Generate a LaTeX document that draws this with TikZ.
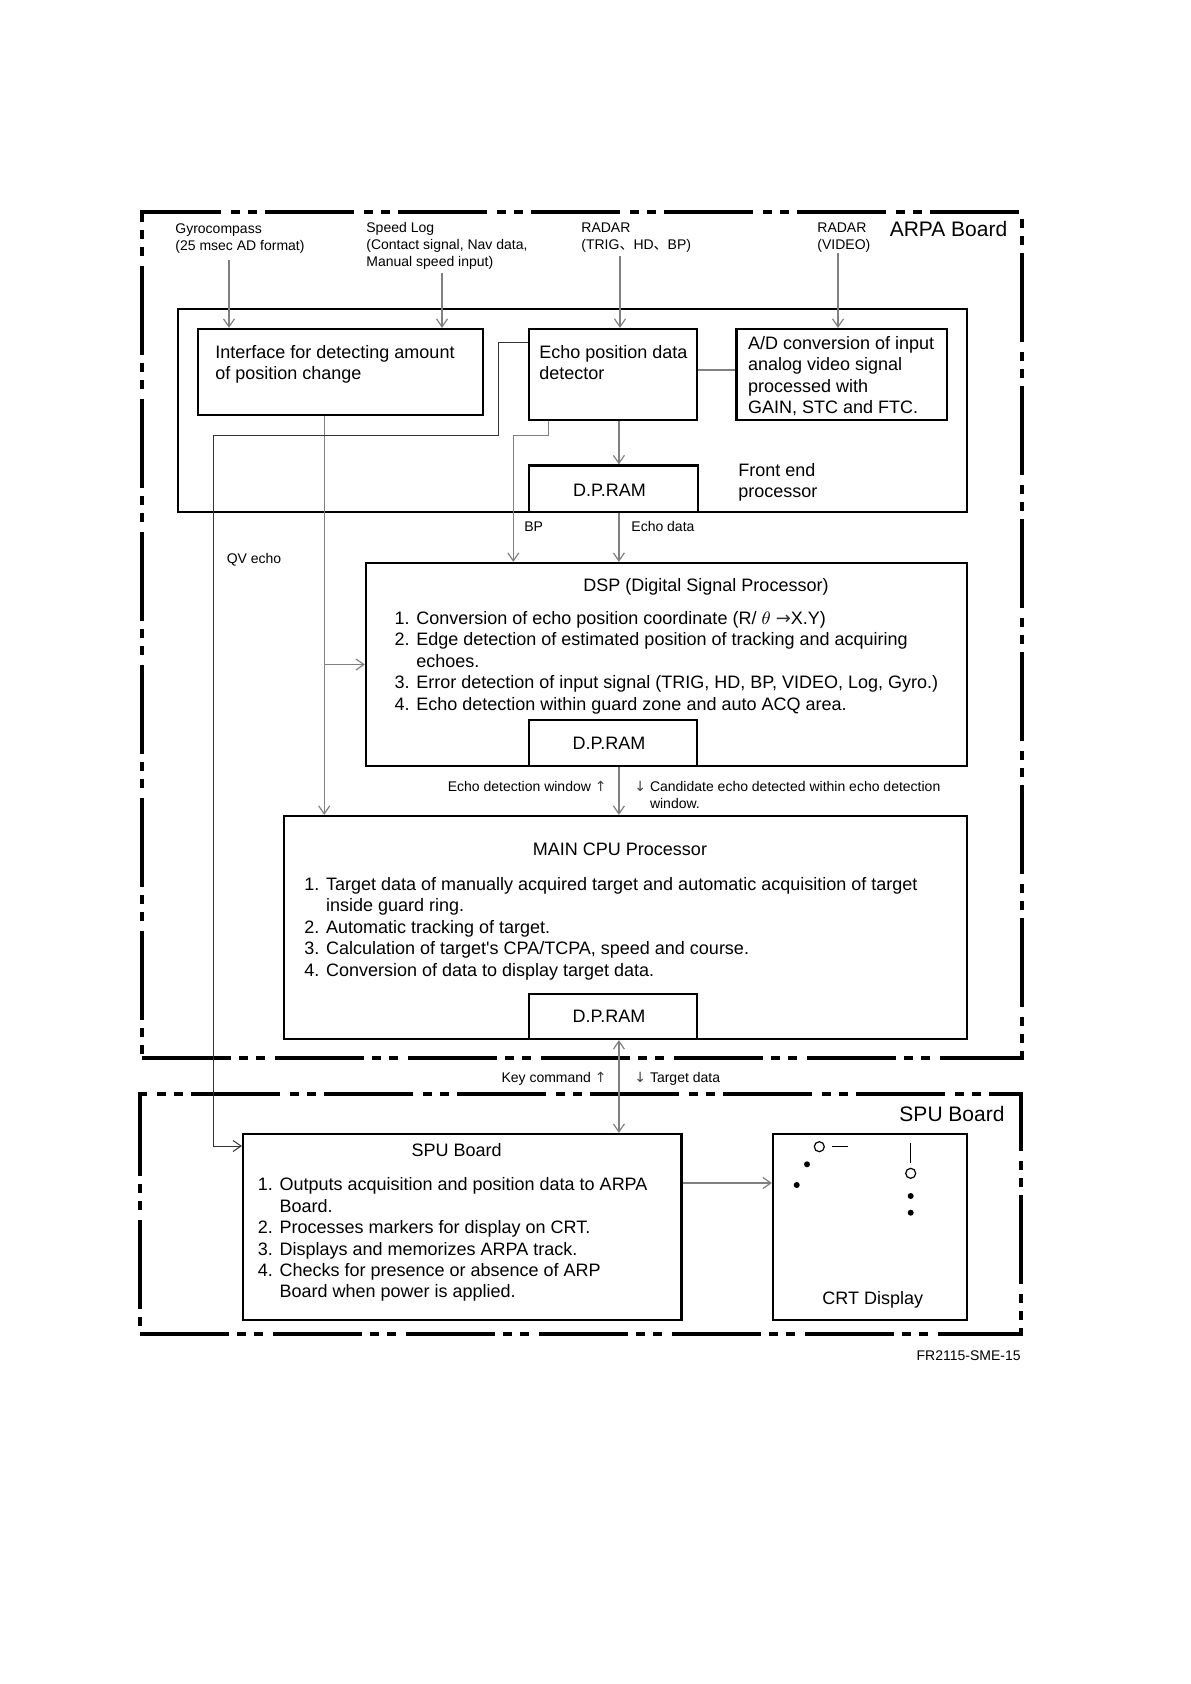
\documentclass[tikz,border=0pt]{standalone}
\usepackage{fontspec}
\setmainfont{Liberation Sans}
\newfontfamily\cjkfont{Noto Sans CJK JP}
\newfontfamily\arrowfont{DejaVu Sans}
\usetikzlibrary{arrows.meta}
\usetikzlibrary{fit}

\newcommand{\lblsize}{\fontsize{7}{8.5}\selectfont}
\newcommand{\boxsize}{\fontsize{9}{10.7}\selectfont}
\newcommand{\brdsize}{\fontsize{10.5}{12}\selectfont}
\newcommand{\upar}{{\arrowfont\color{black!75}↑}}
\newcommand{\dnar}{{\arrowfont\color{black!75}↓}}

\tikzset{
	board/.style={draw, line width=2pt, inner sep=0pt, dash pattern=on 44.5pt off 4pt on 4.5pt off 4pt on 4.5pt off 5pt},
	blk/.style={draw, line width=1.1pt, inner sep=0pt},
	wire/.style={draw=black!50, line width=0.6pt},
	qvwire/.style={draw=black!80, line width=0.5pt},
	lbl/.style={inner sep=0pt, align=left, font=\lblsize},
	txt/.style={inner sep=0pt, align=left, font=\boxsize},
}

\begin{document}
\begin{tikzpicture}[x=0.5pt, y=-0.5pt, >={Straight Barb[length=4pt,width=5.5pt]}]
\useasboundingbox (0,0) rectangle (1190,1684);

% boards
\node[board, fit={(142,212) (1022,1058)}] (arpab) {};
\node[board, fit={(140,1094) (1021,1334)}] (spub) {};
\node[inner sep=0pt, anchor=base, font=\brdsize] (arpalbl) at (948.5,236.5) {ARPA Board};
\node[inner sep=0pt, anchor=base, font=\brdsize] (spulbl) at (952,1121) {SPU Board};

% input labels
\node[lbl, anchor=north west] (gyro) at (175,223) {Gyrocompass\\(25 msec AD format)};
\node[lbl, anchor=north west] (slog) at (366,222) {Speed Log\\(Contact signal, Nav data,\\Manual speed input)};
\node[lbl, anchor=north west] (radar) at (581,222) {RADAR\\(TRIG{\cjkfont 、}HD{\cjkfont 、}BP)};
\node[lbl, anchor=north west] (video) at (817,222) {RADAR\\(VIDEO)};

% front end processor
\node[blk, fit={(178,309) (967,512)}] (fep) {};
\node[blk, fit={(198,329) (483,415)}] (iface) {};
\node[blk, fit={(529,329) (697,420)}] (echo) {};
\node[blk, fit={(736.5,329) (946.6,420)}] (adc) {};
\node[blk, fit={(529,465.5) (698,512)}] (ram1) {};
\node[txt] (ram1txt) at ([xshift=-2pt,yshift=-1pt]ram1.center) {D.P.RAM};
\node[txt, anchor=north west] (ifacetxt) at (215,345) {Interface for detecting amount\\of position change};
\node[txt, anchor=north west] (echotxt) at (539,345) {Echo position data\\detector};
\node[txt, anchor=north west] (adctxt) at (747.6,336) {A/D conversion of input\\analog video signal\\processed with\\GAIN, STC and FTC.};
\node[txt, anchor=north west] (feptxt) at (738,463) {Front end\\processor};

% DSP
\node[blk, fit={(366,563) (967,766)}] (dsp) {};
\node[blk, fit={(529,720) (697,766)}] (ram2) {};
\node[txt] (ram2txt) at ([xshift=-2pt]ram2.center) {D.P.RAM};
\node[txt, anchor=base] (dsptitle) at (706,591.4) {DSP (Digital Signal Processor)};
\node[txt, anchor=north west] (dsptxt) at (394.3,611) {1. Conversion of echo position coordinate (R/ $\theta$ {\arrowfont\color{black!80}→}X.Y)\\
2. Edge detection of estimated position of tracking and acquiring\\
\phantom{2. }echoes.\\
3. Error detection of input signal (TRIG, HD, BP, VIDEO, Log, Gyro.)\\
4. Echo detection within guard zone and auto ACQ area.};

% main CPU
\node[blk, fit={(284,816) (967,1039)}] (cpu) {};
\node[blk, fit={(529,994) (697,1039)}] (ram3) {};
\node[txt] (ram3txt) at ([xshift=-2pt]ram3.center) {D.P.RAM};
\node[txt, anchor=base] (cputitle) at (620,855.7) {MAIN CPU Processor};
\node[txt, anchor=north west] (cputxt) at (304,877) {1. Target data of manually acquired target and automatic acquisition of target\\
\phantom{1. }inside guard ring.\\
2. Automatic tracking of target.\\
3. Calculation of target\textquotesingle s CPA/TCPA, speed and course.\\
4. Conversion of data to display target data.};

% SPU and CRT
\node[blk, fit={(243,1134) (681.5,1320)}] (spu) {};
\node[blk, fit={(773,1134) (967,1320)}] (crt) {};
\node[txt, anchor=base] (sputitle) at (456.7,1156.4) {SPU Board};
\node[txt, anchor=north west] (sputxt) at (257.5,1177.5) {1. Outputs acquisition and position data to ARPA\\
\phantom{1. }Board.\\
2. Processes markers for display on CRT.\\
3. Displays and memorizes ARPA track.\\
4. Checks for presence or absence of ARP\\
\phantom{4. }Board when power is applied.};
\node[txt, anchor=base] (crttxt) at (872.8,1304.7) {CRT Display};

% marks on the CRT
\draw[line width=0.6pt] (819.3,1146.7) circle[radius=5];
\draw[line width=0.6pt] (832.3,1146.5) -- (847.7,1146.5);
\fill (807,1164.3) circle[radius=3];
\fill (796.7,1185) circle[radius=3];
\draw[line width=0.6pt] (910.7,1143.3) -- (910.7,1163.3);
\draw[line width=0.6pt] (910.7,1173.3) circle[radius=5];
\fill (910.7,1196) circle[radius=3];
\fill (910.7,1212.7) circle[radius=3];

% connectors
\coordinate (gyroin) at (229,260);
\coordinate (login) at (442,273);
\coordinate (radin) at (620,256);
\coordinate (vidin) at (838,253);
\coordinate (bus) at ([xshift=45.5pt]echo.south west);
\coordinate (iftap) at ([xshift=63.65pt]iface.south west);
\coordinate (adtap) at ([yshift=2.25pt]echo.east);
\coordinate (qvtap) at ([yshift=-7.5pt]echo.north west);
\coordinate (qvbend) at (498.7,435.7);
\coordinate (qvdown) at (213,1146);
\coordinate (bptap) at ([xshift=10.35pt]echo.south west);
\coordinate (bpbend) at (513.3,435.7);
\coordinate (spuout) at ([yshift=22pt]spu.east);

\draw[wire,->] (gyroin) -- (gyroin |- iface.north);
\draw[wire,->] (login) -- (login |- iface.north);
\draw[wire,->] (radin) -- (radin |- echo.north);
\draw[wire,->] (vidin) -- (vidin |- adc.north);
\draw[wire] (adtap) -- (adtap -| adc.west);
\draw[wire,->] (bus) -- (bus |- ram1.north);
\draw[wire,->] (bus |- ram1.south) -- (bus |- dsp.north);
\draw[wire,->] (bus |- ram2.south) -- (bus |- cpu.north);
\draw[wire,<->] (bus |- ram3.south) -- (bus |- spu.north);
\draw[wire,->] (iftap) -- (iftap |- cpu.north);
\draw[wire,->] (iftap |- dsp.west) -- (dsp.west);
\draw[wire,->] (bptap) |- (bpbend) -- (bpbend |- dsp.north);
\draw[qvwire,->] (qvtap) -| (qvbend) -| (qvdown) -- (qvdown -| spu.west);
\draw[wire,->] (spuout) -- (spuout -| crt.west);

% connector labels
\node[lbl, anchor=base west] (bplbl) at (524,531) {BP};
\node[lbl, anchor=base west] (echolbl) at (631,531) {Echo data};
\node[lbl, anchor=base west] (qvlbl) at (226.4,563.3) {QV echo};
\node[lbl, anchor=base east] (winlbl) at (607,791) {Echo detection window \upar};
\node[lbl, anchor=north west] (candlbl) at (634,781) {\dnar{} Candidate echo detected within echo detection\\\phantom{\dnar{} }window.};
\node[lbl, anchor=base east] (keylbl) at (607,1082) {Key command \upar};
\node[lbl, anchor=base west] (tgtlbl) at (634,1082) {\dnar{} Target data};
\node[lbl, anchor=base east] (figlbl) at (1021,1360) {FR2115-SME-15};
\end{tikzpicture}
\end{document}
